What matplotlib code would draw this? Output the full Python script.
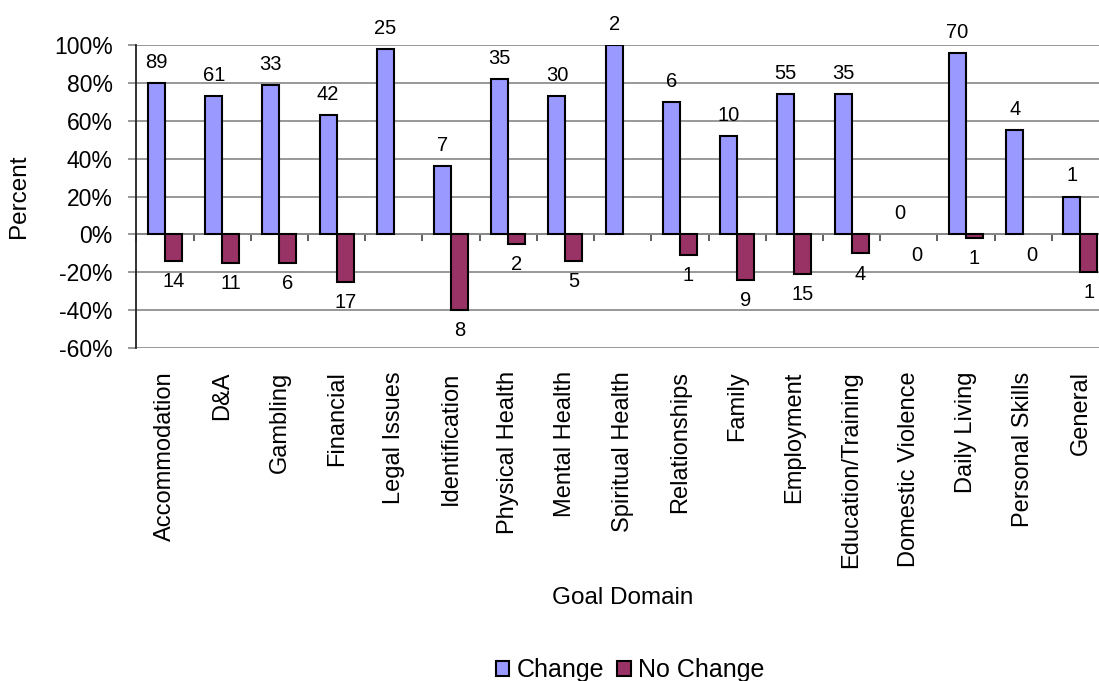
import numpy as np
import matplotlib
matplotlib.use("Agg")
import matplotlib.pyplot as plt
from matplotlib.ticker import FixedLocator, PercentFormatter

plt.rcParams['font.family'] = ['Liberation Sans', 'DejaVu Sans']
plt.rcParams['axes.unicode_minus'] = False

# Goal domains and outcome shares (percent) with the client counts behind them
domains = ["Accommodation", "D&A", "Gambling", "Financial", "Legal Issues",
           "Identification", "Physical Health", "Mental Health", "Spiritual Health",
           "Relationships", "Family", "Employment", "Education/Training",
           "Domestic Violence", "Daily Living", "Personal Skills", "General"]
change_pct = [80, 73, 79, 63, 98, 36, 82, 73, 100, 70, 52, 74, 74, 0, 96, 55, 20]
no_change_pct = [-14, -15, -15, -25, np.nan, -40, -5, -14, np.nan, -11, -24, -21, -10,
                 0, -2, 0, -20]
change_n = [89, 61, 33, 42, 25, 7, 35, 30, 2, 6, 10, 55, 35, 0, 70, 4, 1]
no_change_n = [14, 11, 6, 17, np.nan, 8, 2, 5, np.nan, 1, 9, 15, 4, 0, 1, 0, 1]

C_CHANGE = "#9999FF"
C_NOCHANGE = "#993366"
GRID = "#868686"

W, H = 1099, 681
fig = plt.figure(figsize=(W / 100, H / 100), dpi=100)
# plot area runs a little past the right edge of the canvas
left, right, top, bottom = 136.4, 1109.0, 45.3, 347.7
ax = fig.add_axes([left / W, 1 - bottom / H, (right - left) / W, (bottom - top) / H])

x = np.arange(len(domains))
bw = 0.297


def edge_widths(values):
    # empty bars get no outline
    return [0 if (np.isnan(v) or v == 0) else 1.5 for v in values]


b1 = ax.bar(x - bw / 2, change_pct, bw, color=C_CHANGE, edgecolor="black",
            linewidth=edge_widths(change_pct), label="Change", zorder=3)
b2 = ax.bar(x + bw / 2, no_change_pct, bw, color=C_NOCHANGE, edgecolor="black",
            linewidth=edge_widths(no_change_pct), label="No Change", zorder=3)

# count labels above / below the bars
for xi, v, n in zip(x, change_pct, change_n):
    ax.annotate(f"{n:g}", (xi - bw / 2, v), xytext=(0, 15), textcoords="offset points",
                ha="center", va="center", fontsize=14.5, zorder=4)
for xi, v, n in zip(x, no_change_pct, no_change_n):
    if np.isnan(n):
        continue
    ax.annotate(f"{n:g}", (xi + bw / 2, v), xytext=(0, -15), textcoords="offset points",
                ha="center", va="center", fontsize=14.5, zorder=4)

ax.set_xlim(-0.5, len(domains) - 0.5)
ax.set_ylim(-60, 100)
ax.yaxis.set_major_locator(FixedLocator(np.arange(-60, 101, 20)))
ax.yaxis.set_major_formatter(PercentFormatter(decimals=0))
ax.grid(axis="y", color=GRID, linewidth=1.2, zorder=0)
ax.set_axisbelow(True)

for s in ("top", "right", "bottom"):
    ax.spines[s].set_visible(False)
ax.spines["left"].set_color("#222222")
ax.spines["left"].set_linewidth(1.3)
ax.tick_params(axis="y", length=6, width=1.2, color=GRID, pad=11, labelsize=16.5)

ax.set_xticks(x)
ax.set_xticklabels(domains, rotation=90, fontsize=17)
ax.tick_params(axis="x", length=0, pad=17)

# category axis crossing at 0% with boundary tick marks
ax.axhline(0, color=GRID, linewidth=1.2, zorder=1)
sec = ax.secondary_xaxis(60 / 160)
sec.set_xticks(np.arange(len(domains) + 1) - 0.5)
sec.set_xticklabels([])
sec.tick_params(axis="x", direction="out", length=5, width=1.2, color="#444444")
sec.spines["bottom"].set_visible(False)

ax.set_ylabel("Percent", fontsize=17.5, labelpad=17)
fig.text(622.7 / W, 1 - 598 / H, "Goal Domain", ha="center", va="center", fontsize=17.5)

fig.legend(handles=[b1, b2], loc="center", bbox_to_anchor=(630 / W, 1 - 670 / H),
           ncol=2, frameon=False, fontsize=18, handlelength=0.55, handleheight=0.55,
           handletextpad=0.3, columnspacing=0.5, borderpad=0)

fig.savefig("out.png", dpi=100)
